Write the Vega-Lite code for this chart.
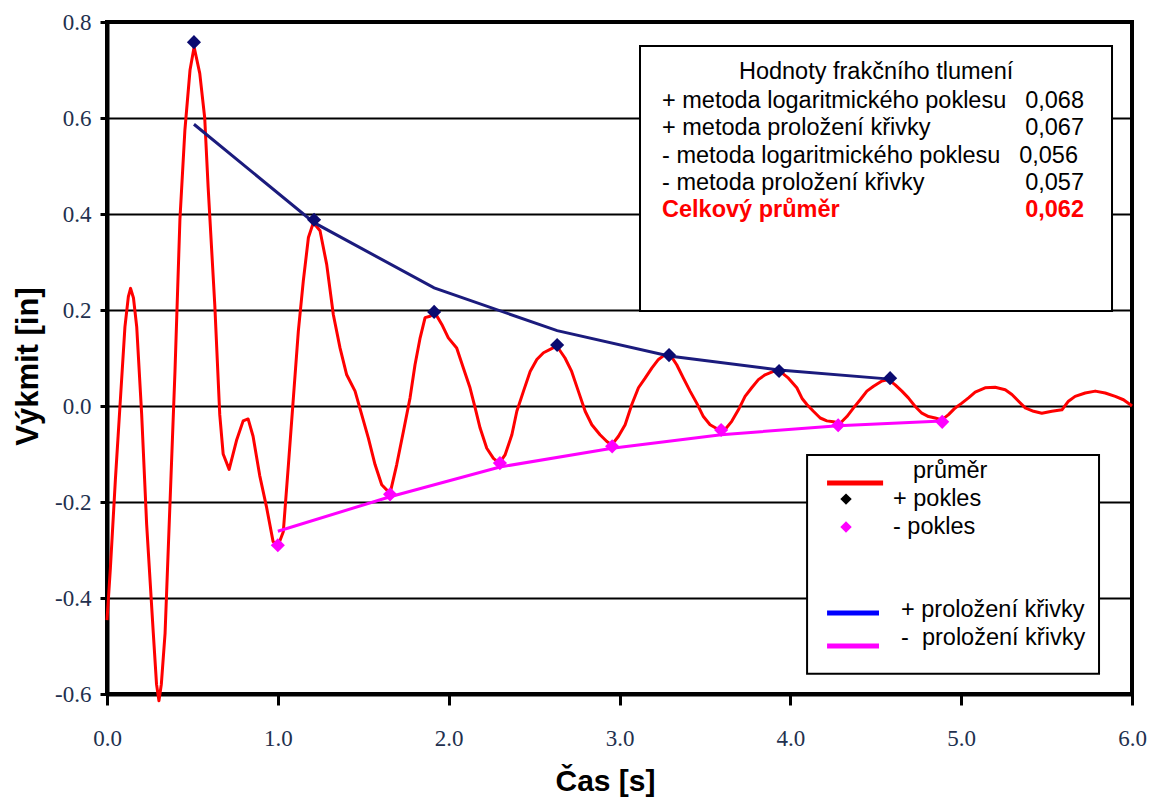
{
  "$schema": "https://vega.github.io/schema/vega-lite/v6.json",
  "width": 1025,
  "height": 672,
  "autosize": {"type": "none"},
  "padding": {"left": 107, "top": 22, "right": 17, "bottom": 104},
  "background": "white",
  "config": {"view": {"stroke": "black", "strokeWidth": 4}, "font": "Liberation Sans"},
  "datasets": {
    "curve": [
      {"t":0.0,"amp":-0.446},{"t":0.02,"amp":-0.337},{"t":0.049,"amp":-0.154},{"t":0.076,"amp":0.0},{"t":0.105,"amp":0.165},{"t":0.125,"amp":0.228},{"t":0.138,"amp":0.245},{"t":0.155,"amp":0.225},{"t":0.174,"amp":0.165},{"t":0.203,"amp":-0.018},{"t":0.232,"amp":-0.246},{"t":0.271,"amp":-0.473},{"t":0.29,"amp":-0.58},{"t":0.304,"amp":-0.614},{"t":0.318,"amp":-0.58},{"t":0.34,"amp":-0.473},{"t":0.369,"amp":-0.2},{"t":0.398,"amp":0.073},{"t":0.427,"amp":0.39},{"t":0.456,"amp":0.575},{"t":0.486,"amp":0.7},{"t":0.51,"amp":0.748},{"t":0.543,"amp":0.693},{"t":0.572,"amp":0.6},{"t":0.592,"amp":0.456},{"t":0.631,"amp":0.21},{"t":0.66,"amp":-0.018},{"t":0.68,"amp":-0.1},{"t":0.715,"amp":-0.132},{"t":0.758,"amp":-0.072},{"t":0.797,"amp":-0.031},{"t":0.826,"amp":-0.027},{"t":0.855,"amp":-0.063},{"t":0.894,"amp":-0.145},{"t":0.933,"amp":-0.209},{"t":0.972,"amp":-0.282},{"t":1.0,"amp":-0.292},
      {"t":1.032,"amp":-0.262},{"t":1.062,"amp":-0.122},{"t":1.091,"amp":0.017},{"t":1.12,"amp":0.156},{"t":1.149,"amp":0.26},{"t":1.179,"amp":0.351},{"t":1.208,"amp":0.382},{"t":1.247,"amp":0.365},{"t":1.286,"amp":0.295},{"t":1.325,"amp":0.19},{"t":1.364,"amp":0.121},{"t":1.403,"amp":0.065},{"t":1.452,"amp":0.031},{"t":1.491,"amp":-0.018},{"t":1.53,"amp":-0.067},{"t":1.569,"amp":-0.122},{"t":1.608,"amp":-0.164},{"t":1.657,"amp":-0.182},{"t":1.696,"amp":-0.122},{"t":1.735,"amp":-0.053},{"t":1.774,"amp":0.017},{"t":1.803,"amp":0.086},{"t":1.833,"amp":0.142},{"t":1.862,"amp":0.184},{"t":1.891,"amp":0.187},{"t":1.92,"amp":0.194},{"t":1.96,"amp":0.17},{"t":1.998,"amp":0.142},
      {"t":2.047,"amp":0.121},{"t":2.086,"amp":0.079},{"t":2.125,"amp":0.038},{"t":2.155,"amp":-0.004},{"t":2.184,"amp":-0.046},{"t":2.223,"amp":-0.088},{"t":2.262,"amp":-0.109},{"t":2.297,"amp":-0.119},{"t":2.33,"amp":-0.102},{"t":2.37,"amp":-0.06},{"t":2.399,"amp":-0.011},{"t":2.438,"amp":0.031},{"t":2.477,"amp":0.072},{"t":2.516,"amp":0.097},{"t":2.555,"amp":0.111},{"t":2.594,"amp":0.118},{"t":2.633,"amp":0.125},{"t":2.681,"amp":0.1},{"t":2.72,"amp":0.072},{"t":2.759,"amp":0.031},{"t":2.799,"amp":-0.011},{"t":2.838,"amp":-0.039},{"t":2.886,"amp":-0.06},{"t":2.926,"amp":-0.074},{"t":2.955,"amp":-0.081},{"t":2.994,"amp":-0.063},
      {"t":3.033,"amp":-0.039},{"t":3.072,"amp":0.003},{"t":3.111,"amp":0.038},{"t":3.15,"amp":0.058},{"t":3.189,"amp":0.079},{"t":3.228,"amp":0.097},{"t":3.267,"amp":0.107},{"t":3.296,"amp":0.107},{"t":3.335,"amp":0.086},{"t":3.374,"amp":0.058},{"t":3.413,"amp":0.031},{"t":3.452,"amp":0.006},{"t":3.491,"amp":-0.022},{"t":3.53,"amp":-0.039},{"t":3.579,"amp":-0.049},{"t":3.618,"amp":-0.049},{"t":3.657,"amp":-0.032},{"t":3.696,"amp":-0.008},{"t":3.735,"amp":0.02},{"t":3.774,"amp":0.038},{"t":3.813,"amp":0.055},{"t":3.852,"amp":0.065},{"t":3.901,"amp":0.072},{"t":3.94,"amp":0.072},{"t":3.989,"amp":0.058},
      {"t":4.038,"amp":0.038},{"t":4.07,"amp":0.015},{"t":4.097,"amp":0.003},{"t":4.135,"amp":-0.011},{"t":4.175,"amp":-0.025},{"t":4.214,"amp":-0.031},{"t":4.252,"amp":-0.033},{"t":4.292,"amp":-0.036},{"t":4.331,"amp":-0.022},{"t":4.37,"amp":-0.004},{"t":4.409,"amp":0.013},{"t":4.448,"amp":0.031},{"t":4.487,"amp":0.041},{"t":4.536,"amp":0.052},{"t":4.575,"amp":0.055},{"t":4.614,"amp":0.044},{"t":4.653,"amp":0.031},{"t":4.691,"amp":0.017},{"t":4.731,"amp":-0.001},{"t":4.77,"amp":-0.015},{"t":4.809,"amp":-0.022},{"t":4.848,"amp":-0.025},{"t":4.887,"amp":-0.029},{"t":4.926,"amp":-0.018},{"t":4.965,"amp":-0.004},
      {"t":5.004,"amp":0.006},{"t":5.043,"amp":0.017},{"t":5.082,"amp":0.029},{"t":5.14,"amp":0.038},{"t":5.199,"amp":0.039},{"t":5.258,"amp":0.034},{"t":5.297,"amp":0.024},{"t":5.336,"amp":0.01},{"t":5.375,"amp":-0.004},{"t":5.424,"amp":-0.011},{"t":5.472,"amp":-0.015},{"t":5.531,"amp":-0.011},{"t":5.59,"amp":-0.008},{"t":5.628,"amp":0.01},{"t":5.667,"amp":0.02},{"t":5.726,"amp":0.027},{"t":5.785,"amp":0.031},{"t":5.843,"amp":0.027},{"t":5.902,"amp":0.02},{"t":5.95,"amp":0.013},{"t":5.989,"amp":0.003},{"t":6.0,"amp":0.0}
    ],
    "peaks": [
      {"t":0.509,"amp":0.758,"series":"+ pokles"},{"t":1.212,"amp":0.388,"series":"+ pokles"},{"t":1.915,"amp":0.196,"series":"+ pokles"},{"t":2.635,"amp":0.127,"series":"+ pokles"},{"t":3.29,"amp":0.106,"series":"+ pokles"},{"t":3.934,"amp":0.073,"series":"+ pokles"},{"t":4.584,"amp":0.058,"series":"+ pokles"},
      {"t":1.0,"amp":-0.29,"series":"- pokles"},{"t":1.657,"amp":-0.184,"series":"- pokles"},{"t":2.3,"amp":-0.119,"series":"- pokles"},{"t":2.957,"amp":-0.084,"series":"- pokles"},{"t":3.595,"amp":-0.05,"series":"- pokles"},{"t":4.28,"amp":-0.04,"series":"- pokles"},{"t":4.889,"amp":-0.033,"series":"- pokles"}
    ],
    "fits": [
      {"t":0.509,"amp":0.587,"series":"+ proložení křivky"},{"t":1.212,"amp":0.382,"series":"+ proložení křivky"},{"t":1.915,"amp":0.246,"series":"+ proložení křivky"},{"t":2.635,"amp":0.157,"series":"+ proložení křivky"},{"t":3.29,"amp":0.104,"series":"+ proložení křivky"},{"t":3.934,"amp":0.075,"series":"+ proložení křivky"},{"t":4.584,"amp":0.056,"series":"+ proložení křivky"},
      {"t":1.0,"amp":-0.261,"series":"- proložení křivky"},{"t":1.657,"amp":-0.189,"series":"- proložení křivky"},{"t":2.3,"amp":-0.127,"series":"- proložení křivky"},{"t":2.957,"amp":-0.088,"series":"- proložení křivky"},{"t":3.595,"amp":-0.06,"series":"- proložení křivky"},{"t":4.28,"amp":-0.041,"series":"- proložení křivky"},{"t":4.889,"amp":-0.031,"series":"- proložení křivky"}
    ]
  },
  "layer": [
    {
      "data": {"name": "curve"},
      "mark": {"type": "line", "color": "#ff0000", "strokeWidth": 3, "interpolate": "linear", "strokeJoin": "round"},
      "encoding": {
        "x": {"field": "t", "type": "quantitative",
          "scale": {"domain": [0, 6], "nice": false, "zero": false},
          "axis": {"title": "Čas [s]", "values": [0,1,2,3,4,5,6], "format": ".1f", "grid": false,
            "domainColor": "black", "domainWidth": 4, "tickColor": "black", "tickWidth": 3, "tickSize": 11,
            "labelFont": "Liberation Serif", "labelFontSize": 23, "labelColor": "#22304e", "labelPadding": 22,
            "labelFlush": false, "labelOverlap": false,
            "titleFont": "Liberation Sans", "titleFontSize": 30, "titleFontWeight": "bold", "titleColor": "black",
            "titleX": 498, "titleY": 96, "titleBaseline": "alphabetic"}},
        "y": {"field": "amp", "type": "quantitative",
          "scale": {"domain": [-0.6, 0.8], "nice": false, "zero": false},
          "axis": {"title": "Výkmit [in]", "values": [-0.6,-0.4,-0.2,0,0.2,0.4,0.6,0.8],
            "labelExpr": "replace(format(datum.value, '.1f'), '\u2212', '-')",
            "grid": true, "gridColor": "black", "gridWidth": 2, "gridOpacity": 1,
            "domainColor": "black", "domainWidth": 4, "tickColor": "black", "tickWidth": 3, "tickSize": 7,
            "labelFont": "Liberation Serif", "labelFontSize": 23, "labelColor": "#22304e", "labelPadding": 9,
            "labelFlush": false, "labelOverlap": false,
            "titleFont": "Liberation Sans", "titleFontSize": 31, "titleFontWeight": "bold", "titleColor": "black",
            "titleX": -70, "titleY": 344, "titleBaseline": "alphabetic"}}
      }
    },
    {
      "data": {"name": "fits"},
      "mark": {"type": "line", "strokeWidth": 3},
      "encoding": {
        "x": {"field": "t", "type": "quantitative"},
        "y": {"field": "amp", "type": "quantitative"},
        "color": {"field": "series", "type": "nominal", "legend": null,
          "scale": {"domain": ["průměr", "+ pokles", "- pokles", "+ proložení křivky", "- proložení křivky"],
                    "range": ["#ff0000", "#0b0b70", "#ff00ff", "#1b1b7d", "#ff00ff"]}}
      }
    },
    {
      "data": {"name": "peaks"},
      "mark": {"type": "point", "shape": "diamond", "filled": true, "opacity": 1, "size": 200},
      "encoding": {
        "x": {"field": "t", "type": "quantitative"},
        "y": {"field": "amp", "type": "quantitative"},
        "color": {"field": "series", "type": "nominal", "legend": null,
          "scale": {"domain": ["průměr", "+ pokles", "- pokles", "+ proložení křivky", "- proložení křivky"],
                    "range": ["#ff0000", "#0b0b70", "#ff00ff", "#1b1b7d", "#ff00ff"]}}
      }
    },
    {
      "data": {"values": [{}]},
      "mark": {"type": "rect", "fill": "white", "stroke": "black", "strokeWidth": 2},
      "encoding": {"x": {"datum": 3.12}, "x2": {"datum": 5.883}, "y": {"datum": 0.75}, "y2": {"datum": 0.198}}
    },
    {
      "data": {"values": [{}]},
      "mark": {"type": "text", "align": "center", "baseline": "alphabetic", "fontSize": 23.5, "font": "Liberation Sans", "color": "black"},
      "encoding": {"x": {"datum": 4.502}, "y": {"datum": 0.6806}, "text": {"value": "Hodnoty frakčního tlumení"}}
    },
    {
      "data": {"values": [{}]},
      "mark": {"type": "text", "align": "left", "baseline": "alphabetic", "fontSize": 23.5, "font": "Liberation Sans", "color": "black"},
      "encoding": {"x": {"datum": 3.249}, "y": {"datum": 0.6202}, "text": {"value": "+ metoda logaritmického poklesu"}}
    },
    {
      "data": {"values": [{}]},
      "mark": {"type": "text", "align": "right", "baseline": "alphabetic", "fontSize": 23.5, "font": "Liberation Sans", "color": "black"},
      "encoding": {"x": {"datum": 5.719}, "y": {"datum": 0.6202}, "text": {"value": "0,068"}}
    },
    {
      "data": {"values": [{}]},
      "mark": {"type": "text", "align": "left", "baseline": "alphabetic", "fontSize": 23.5, "font": "Liberation Sans", "color": "black"},
      "encoding": {"x": {"datum": 3.249}, "y": {"datum": 0.5646}, "text": {"value": "+ metoda proložení křivky"}}
    },
    {
      "data": {"values": [{}]},
      "mark": {"type": "text", "align": "right", "baseline": "alphabetic", "fontSize": 23.5, "font": "Liberation Sans", "color": "black"},
      "encoding": {"x": {"datum": 5.719}, "y": {"datum": 0.5646}, "text": {"value": "0,067"}}
    },
    {
      "data": {"values": [{}]},
      "mark": {"type": "text", "align": "left", "baseline": "alphabetic", "fontSize": 23.5, "font": "Liberation Sans", "color": "black"},
      "encoding": {"x": {"datum": 3.249}, "y": {"datum": 0.5069}, "text": {"value": "- metoda logaritmického poklesu"}}
    },
    {
      "data": {"values": [{}]},
      "mark": {"type": "text", "align": "right", "baseline": "alphabetic", "fontSize": 23.5, "font": "Liberation Sans", "color": "black"},
      "encoding": {"x": {"datum": 5.684}, "y": {"datum": 0.5069}, "text": {"value": "0,056"}}
    },
    {
      "data": {"values": [{}]},
      "mark": {"type": "text", "align": "left", "baseline": "alphabetic", "fontSize": 23.5, "font": "Liberation Sans", "color": "black"},
      "encoding": {"x": {"datum": 3.249}, "y": {"datum": 0.45}, "text": {"value": "- metoda proložení křivky"}}
    },
    {
      "data": {"values": [{}]},
      "mark": {"type": "text", "align": "right", "baseline": "alphabetic", "fontSize": 23.5, "font": "Liberation Sans", "color": "black"},
      "encoding": {"x": {"datum": 5.719}, "y": {"datum": 0.45}, "text": {"value": "0,057"}}
    },
    {
      "data": {"values": [{}]},
      "mark": {"type": "text", "align": "left", "baseline": "alphabetic", "fontSize": 23.5, "font": "Liberation Sans", "fontWeight": "bold", "color": "#ff0000"},
      "encoding": {"x": {"datum": 3.249}, "y": {"datum": 0.3944}, "text": {"value": "Celkový průměr"}}
    },
    {
      "data": {"values": [{}]},
      "mark": {"type": "text", "align": "right", "baseline": "alphabetic", "fontSize": 23.5, "font": "Liberation Sans", "fontWeight": "bold", "color": "#ff0000"},
      "encoding": {"x": {"datum": 5.719}, "y": {"datum": 0.3944}, "text": {"value": "0,062"}}
    },
    {
      "data": {"values": [{}]},
      "mark": {"type": "rect", "fill": "white", "stroke": "black", "strokeWidth": 2},
      "encoding": {"x": {"datum": 4.098}, "x2": {"datum": 5.807}, "y": {"datum": -0.102}, "y2": {"datum": -0.558}}
    },
    {
      "data": {"values": [{}]},
      "mark": {"type": "rule", "color": "#ff0000", "strokeWidth": 5},
      "encoding": {"x": {"datum": 4.215}, "x2": {"datum": 4.543}, "y": {"datum": -0.1604}}
    },
    {
      "data": {"values": [{}]},
      "mark": {"type": "rule", "color": "#0000ff", "strokeWidth": 5},
      "encoding": {"x": {"datum": 4.215}, "x2": {"datum": 4.519}, "y": {"datum": -0.431}}
    },
    {
      "data": {"values": [{}]},
      "mark": {"type": "rule", "color": "#ff00ff", "strokeWidth": 5},
      "encoding": {"x": {"datum": 4.215}, "x2": {"datum": 4.519}, "y": {"datum": -0.5}}
    },
    {
      "data": {"values": [{}]},
      "mark": {"type": "point", "shape": "diamond", "filled": true, "opacity": 1, "size": 130, "color": "black"},
      "encoding": {"x": {"datum": 4.326}, "y": {"datum": -0.194}}
    },
    {
      "data": {"values": [{}]},
      "mark": {"type": "point", "shape": "diamond", "filled": true, "opacity": 1, "size": 130, "color": "#ff00ff"},
      "encoding": {"x": {"datum": 4.326}, "y": {"datum": -0.252}}
    },
    {
      "data": {"values": [{}]},
      "mark": {"type": "text", "align": "left", "baseline": "alphabetic", "fontSize": 23.5, "font": "Liberation Sans", "color": "black"},
      "encoding": {"x": {"datum": 4.718}, "y": {"datum": -0.1506}, "text": {"value": "průměr"}}
    },
    {
      "data": {"values": [{}]},
      "mark": {"type": "text", "align": "left", "baseline": "alphabetic", "fontSize": 23.5, "font": "Liberation Sans", "color": "black"},
      "encoding": {"x": {"datum": 4.601}, "y": {"datum": -0.2083}, "text": {"value": "+ pokles"}}
    },
    {
      "data": {"values": [{}]},
      "mark": {"type": "text", "align": "left", "baseline": "alphabetic", "fontSize": 23.5, "font": "Liberation Sans", "color": "black"},
      "encoding": {"x": {"datum": 4.601}, "y": {"datum": -0.2667}, "text": {"value": "- pokles"}}
    },
    {
      "data": {"values": [{}]},
      "mark": {"type": "text", "align": "left", "baseline": "alphabetic", "fontSize": 23.5, "font": "Liberation Sans", "color": "black"},
      "encoding": {"x": {"datum": 4.648}, "y": {"datum": -0.439}, "text": {"value": "+ proložení křivky"}}
    },
    {
      "data": {"values": [{}]},
      "mark": {"type": "text", "align": "left", "baseline": "alphabetic", "fontSize": 23.5, "font": "Liberation Sans", "color": "black"},
      "encoding": {"x": {"datum": 4.648}, "y": {"datum": -0.498}, "text": {"value": "-\u00a0 proložení křivky"}}
    }
  ]
}
